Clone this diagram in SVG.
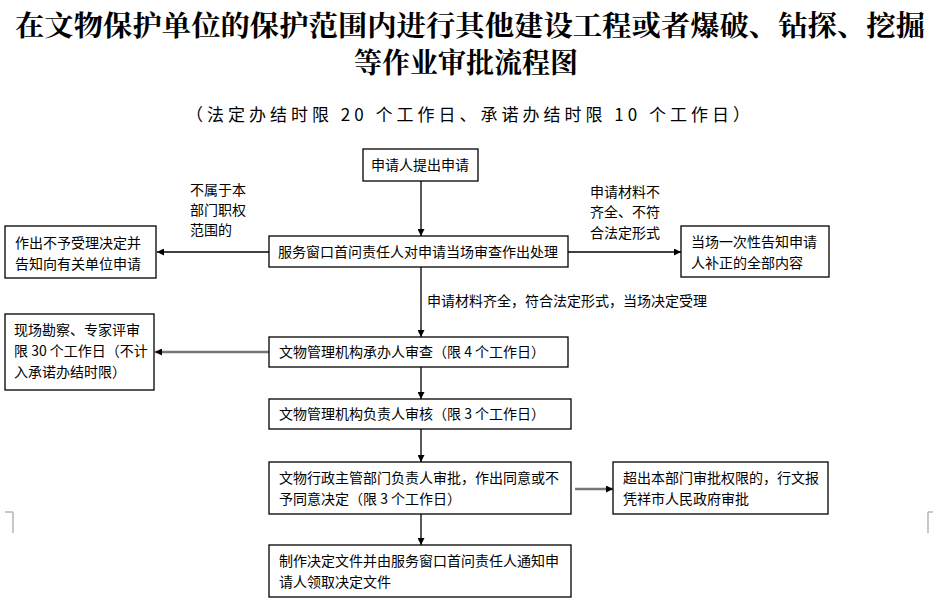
<svg xmlns="http://www.w3.org/2000/svg" width="933" height="606" viewBox="0 0 933 606">
<defs>
<style>
.t{font-family:"Noto Sans CJK SC","Noto Sans CJK JP",sans-serif;font-size:14px;fill:#000}
.h{font-family:"Noto Serif CJK SC","Noto Sans CJK SC",serif;font-size:28px;font-weight:bold;fill:#000}
.s{font-family:"Noto Sans CJK SC",sans-serif;font-size:17px;fill:#000;letter-spacing:4px}
rect{fill:#fff;stroke:#000;stroke-width:1.3}
.c line{stroke:#000;stroke-width:1.3}
.g{stroke:#777!important;stroke-width:2.5!important}
</style>
<marker id="a" viewBox="0 0 10 10" refX="10" refY="5" markerWidth="7" markerHeight="7" orient="auto" markerUnits="userSpaceOnUse"><path d="M0,0L10,5L0,10z" fill="#000"/></marker>
</defs>
<rect x="0" y="0" width="933" height="606" style="stroke:none"/>
<text class="h" x="470" y="36" text-anchor="middle" textLength="910" lengthAdjust="spacingAndGlyphs">在文物保护单位的保护范围内进行其他建设工程或者爆破、钻探、挖掘</text>
<text class="h" x="466" y="73" text-anchor="middle">等作业审批流程图</text>
<text class="s" x="470" y="121" text-anchor="middle">（法定办结时限 20 个工作日、承诺办结时限 10 个工作日）</text>
<g class="c">
<line x1="421" y1="181" x2="421" y2="236" marker-end="url(#a)"/>
<line x1="269" y1="252" x2="157" y2="252" marker-end="url(#a)"/>
<line x1="568" y1="252" x2="681" y2="252" marker-end="url(#a)"/>
<line x1="421" y1="267" x2="421" y2="337" marker-end="url(#a)"/>
<line class="g" x1="269" y1="352" x2="155" y2="352" marker-end="url(#a)"/>
<line x1="421" y1="367" x2="421" y2="399" marker-end="url(#a)"/>
<line x1="421" y1="429" x2="421" y2="462" marker-end="url(#a)"/>
<line class="g" x1="575" y1="489" x2="613" y2="489" marker-end="url(#a)"/>
<line x1="421" y1="514" x2="421" y2="545" marker-end="url(#a)"/>
<line style="stroke:#aaa" x1="5" y1="512" x2="13" y2="512"/><line style="stroke:#aaa" x1="13" y1="512" x2="13" y2="533"/>
<line style="stroke:#aaa" x1="928" y1="512" x2="933" y2="512"/><line style="stroke:#aaa" x1="928" y1="512" x2="928" y2="533"/>
</g>
<g class="t">
<text x="190" y="195">不属于本</text><text x="190" y="215">部门职权</text><text x="190" y="235">范围的</text>
<text x="590" y="197">申请材料不</text><text x="590" y="217">齐全、不符</text><text x="590" y="238">合法定形式</text>
<text x="427" y="306">申请材料齐全，符合法定形式，当场决定受理</text>
</g>
<g id="n1"><rect x="363" y="149" width="115" height="32"/><text class="t" x="420" y="170" text-anchor="middle">申请人提出申请</text></g>
<g id="n2"><rect x="269" y="236" width="299" height="31"/><text class="t" x="418" y="257" text-anchor="middle">服务窗口首问责任人对申请当场审查作出处理</text></g>
<g id="n3"><rect x="5" y="226" width="151" height="52"/><text class="t" x="15" y="248">作出不予受理决定并</text><text class="t" x="15" y="269">告知向有关单位申请</text></g>
<g id="n4"><rect x="681" y="226" width="148" height="51"/><text class="t" x="691" y="247">当场一次性告知申请</text><text class="t" x="691" y="268">人补正的全部内容</text></g>
<g id="n5"><rect x="269" y="337" width="299" height="30"/><text class="t" x="279" y="357">文物管理机构承办人审查（限 4 个工作日）</text></g>
<g id="n6"><rect x="5" y="314" width="149" height="76"/><text class="t" x="14" y="335">现场勘察、专家评审</text><text class="t" x="14" y="356">限 30 个工作日（不计</text><text class="t" x="14" y="377">入承诺办结时限）</text></g>
<g id="n7"><rect x="269" y="399" width="302" height="30"/><text class="t" x="279" y="419">文物管理机构负责人审核（限 3 个工作日）</text></g>
<g id="n8"><rect x="269" y="462" width="302" height="52"/><text class="t" x="279" y="483">文物行政主管部门负责人审批，作出同意或不</text><text class="t" x="279" y="504">予同意决定（限 3 个工作日）</text></g>
<g id="n9"><rect x="613" y="462" width="215" height="52"/><text class="t" x="623" y="483">超出本部门审批权限的，行文报</text><text class="t" x="623" y="504">凭祥市人民政府审批</text></g>
<g id="n10"><rect x="269" y="545" width="302" height="52"/><text class="t" x="279" y="566">制作决定文件并由服务窗口首问责任人通知申</text><text class="t" x="279" y="587">请人领取决定文件</text></g>
</svg>
